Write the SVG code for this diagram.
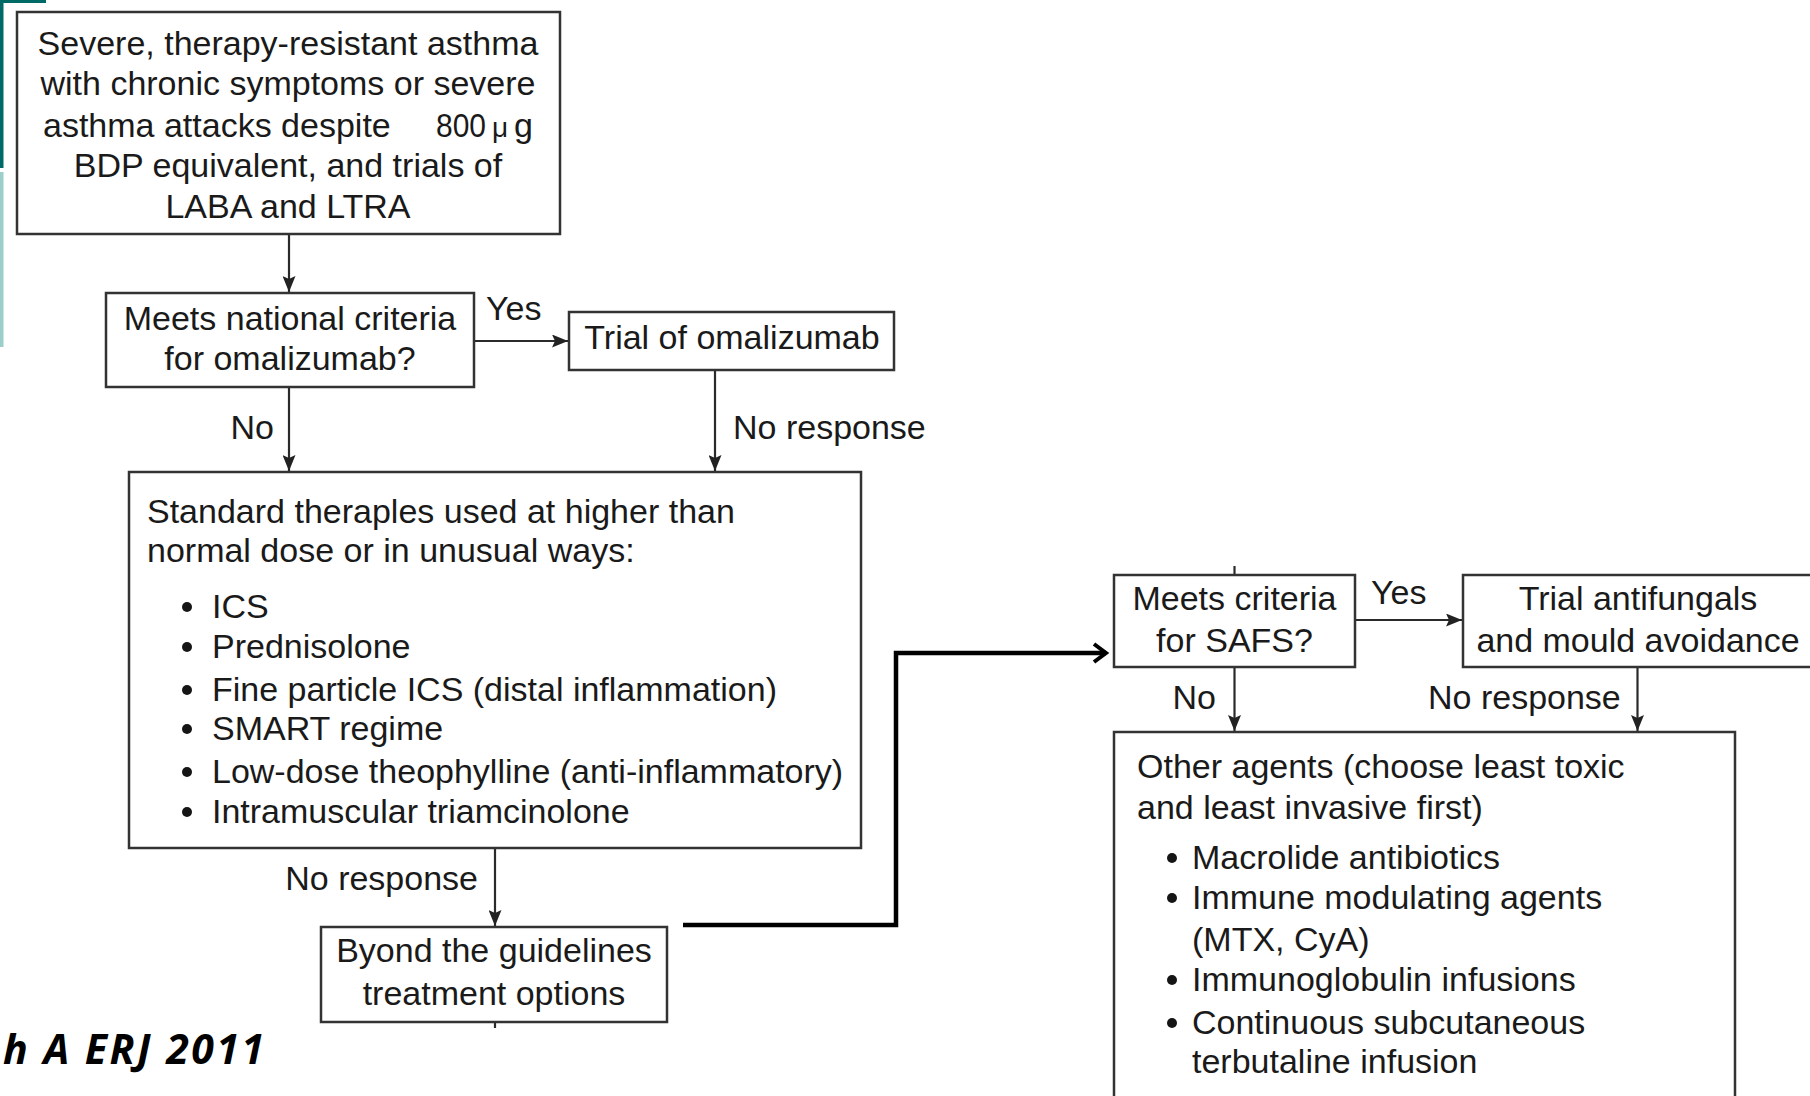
<svg xmlns="http://www.w3.org/2000/svg" width="1810" height="1096" viewBox="0 0 1810 1096">
<style>
  .box { fill: #ffffff; stroke: #333333; stroke-width: 2.5; }
  .t { font-family: "Liberation Sans", Arial, sans-serif; font-size: 34px; fill: #1a1a1a; }
  .c { text-anchor: middle; }
  .e { text-anchor: end; }
  .ln { stroke: #2a2a2a; stroke-width: 2.2; fill: none; }
  .thick { stroke: #000000; stroke-width: 4.5; fill: none; }
  .bul { fill: #151515; }
  .cite { font-family: "Open Sans", "DejaVu Sans", sans-serif; font-size: 41px; font-weight: bold; font-style: italic; fill: #000000; letter-spacing: 2.5px; }
</style>
<defs>
  <marker id="arr" markerUnits="userSpaceOnUse" markerWidth="16" markerHeight="13" refX="16" refY="6.5" orient="auto">
    <path d="M0,0 L16,6.5 L0,13 L3,6.5 z" fill="#222222"/>
  </marker>
  <marker id="chev" markerUnits="userSpaceOnUse" markerWidth="24" markerHeight="24" refX="20" refY="12" orient="auto">
    <path d="M8,3 L20,12 L8,21" fill="none" stroke="#000000" stroke-width="4"/>
  </marker>
</defs>
<rect width="1810" height="1096" fill="#ffffff"/>

<g id="decoration">
  <rect x="0" y="0" width="46" height="3" fill="#006b66"/>
  <rect x="0" y="0" width="3.5" height="168" fill="#006b66"/>
  <rect x="0" y="172" width="3.5" height="175" fill="#9ccfcb"/>
</g>

<g id="connectors">
  <line class="ln" x1="289" y1="234" x2="289" y2="292" marker-end="url(#arr)"/>
  <line class="ln" x1="474" y1="341" x2="568" y2="341" marker-end="url(#arr)"/>
  <line class="ln" x1="289" y1="387" x2="289" y2="471" marker-end="url(#arr)"/>
  <line class="ln" x1="715" y1="370" x2="715" y2="471" marker-end="url(#arr)"/>
  <line class="ln" x1="495" y1="848" x2="495" y2="926" marker-end="url(#arr)"/>
  <line class="ln" x1="495" y1="1022" x2="495" y2="1028"/>
  <polyline class="thick" points="683,925 896,925 896,653 1106,653" marker-end="url(#chev)"/>
  <line class="ln" x1="1234.5" y1="566" x2="1234.5" y2="575"/>
  <line class="ln" x1="1355" y1="620" x2="1462" y2="620" marker-end="url(#arr)"/>
  <line class="ln" x1="1234.5" y1="667" x2="1234.5" y2="731" marker-end="url(#arr)"/>
  <line class="ln" x1="1637.5" y1="667" x2="1637.5" y2="731" marker-end="url(#arr)"/>
</g>

<g id="labels">
  <text class="t" x="486" y="320">Yes</text>
  <text class="t e" x="274" y="439">No</text>
  <text class="t" x="733" y="439">No response</text>
  <text class="t e" x="478" y="890">No response</text>
  <text class="t" x="1371" y="604">Yes</text>
  <text class="t e" x="1216" y="709">No</text>
  <text class="t" x="1428" y="709">No response</text>
</g>

<g id="n-start">
  <rect class="box" x="17" y="12" width="543" height="222"/>
  <text class="t c" x="288" y="55">Severe, therapy-resistant asthma</text>
  <text class="t c" x="288" y="95">with chronic symptoms or severe</text>
  <text class="t" y="137"><tspan x="43">asthma attacks despite</tspan><tspan x="436" textLength="50" lengthAdjust="spacingAndGlyphs">800</tspan><tspan x="492" font-size="28">μ</tspan><tspan x="514">g</tspan></text>
  <text class="t c" x="288" y="177">BDP equivalent, and trials of</text>
  <text class="t c" x="288" y="218">LABA and LTRA</text>
</g>

<g id="n-omal-criteria">
  <rect class="box" x="106" y="293" width="368" height="94"/>
  <text class="t c" x="290" y="330">Meets national criteria</text>
  <text class="t c" x="290" y="370">for omalizumab?</text>
</g>

<g id="n-omal-trial">
  <rect class="box" x="569" y="312" width="325" height="58"/>
  <text class="t c" x="732" y="349">Trial of omalizumab</text>
</g>

<g id="n-standard">
  <rect class="box" x="129" y="472" width="732" height="376"/>
  <text class="t" x="147" y="523">Standard theraples used at higher than</text>
  <text class="t" x="147" y="562">normal dose or in unusual ways:</text>
  <circle class="bul" cx="187" cy="607" r="5"/>
  <text class="t" x="212" y="618">ICS</text>
  <circle class="bul" cx="187" cy="647" r="5"/>
  <text class="t" x="212" y="658">Prednisolone</text>
  <circle class="bul" cx="187" cy="690" r="5"/>
  <text class="t" x="212" y="701">Fine particle ICS (distal inflammation)</text>
  <circle class="bul" cx="187" cy="729" r="5"/>
  <text class="t" x="212" y="740">SMART regime</text>
  <circle class="bul" cx="187" cy="772" r="5"/>
  <text class="t" x="212" y="783">Low-dose theophylline (anti-inflammatory)</text>
  <circle class="bul" cx="187" cy="812" r="5"/>
  <text class="t" x="212" y="823">Intramuscular triamcinolone</text>
</g>

<g id="n-beyond">
  <rect class="box" x="321" y="927" width="346" height="95"/>
  <text class="t c" x="494" y="962">Byond the guidelines</text>
  <text class="t c" x="494" y="1005">treatment options</text>
</g>

<g id="n-safs">
  <rect class="box" x="1114" y="575" width="241" height="92"/>
  <text class="t c" x="1234.5" y="610">Meets criteria</text>
  <text class="t c" x="1234.5" y="652">for SAFS?</text>
</g>

<g id="n-antifungal">
  <rect class="box" x="1463" y="575" width="370" height="92"/>
  <text class="t c" x="1638" y="610">Trial antifungals</text>
  <text class="t c" x="1638" y="652">and mould avoidance</text>
</g>

<g id="n-other">
  <rect class="box" x="1114" y="732" width="621" height="390"/>
  <text class="t" x="1137" y="778">Other agents (choose least toxic</text>
  <text class="t" x="1137" y="819">and least invasive first)</text>
  <circle class="bul" cx="1172" cy="858" r="5"/>
  <text class="t" x="1192" y="869">Macrolide antibiotics</text>
  <circle class="bul" cx="1172" cy="898" r="5"/>
  <text class="t" x="1192" y="909">Immune modulating agents</text>
  <text class="t" x="1192" y="951">(MTX, CyA)</text>
  <circle class="bul" cx="1172" cy="980" r="5"/>
  <text class="t" x="1192" y="991">Immunoglobulin infusions</text>
  <circle class="bul" cx="1172" cy="1023" r="5"/>
  <text class="t" x="1192" y="1034">Continuous subcutaneous</text>
  <text class="t" x="1192" y="1073">terbutaline infusion</text>
</g>

<g id="citation">
  <text class="cite" x="3" y="1064">h A ERJ 2011</text>
</g>
</svg>
